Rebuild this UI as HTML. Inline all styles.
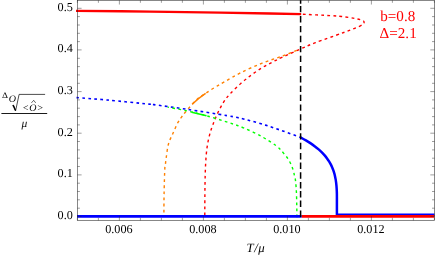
<!DOCTYPE html>
<html><head><meta charset="utf-8"><title>plot</title><style>html,body{margin:0;padding:0;background:#fff;}body{width:436px;height:259px;overflow:hidden;position:relative;font-family:"Liberation Serif",serif;}</style></head><body>
<svg width="436" height="259" viewBox="0 0 436 259" style="position:absolute;left:0;top:0;will-change:transform;text-rendering:geometricPrecision">
<rect width="436" height="259" fill="#fff"/>
<g fill="none" stroke-linecap="butt" stroke-linejoin="round">
<path d="M76.00 10.80 C88.33 10.93 126.00 11.30 150.00 11.60 C174.00 11.90 200.00 12.28 220.00 12.60 C240.00 12.92 256.47 13.23 270.00 13.50 C283.53 13.77 296.00 14.08 301.20 14.20" stroke="#f00" stroke-width="2.3"/>
<path d="M204.80 216.00 C204.80 214.90 204.77 214.57 204.80 209.40 C204.83 204.23 204.87 192.50 205.00 185.00 C205.13 177.50 205.27 170.60 205.60 164.40 C205.93 158.20 206.33 152.73 207.00 147.80 C207.67 142.87 208.60 138.70 209.60 134.80 C210.60 130.90 211.67 127.98 213.00 124.40 C214.33 120.82 215.88 116.93 217.60 113.30 C219.32 109.67 221.27 105.78 223.30 102.60 C225.33 99.42 226.88 97.40 229.80 94.20 C232.72 91.00 237.27 86.55 240.80 83.40 C244.33 80.25 247.52 77.87 251.00 75.30 C254.48 72.73 258.20 70.17 261.70 68.00 C265.20 65.83 268.53 64.12 272.00 62.30 C275.47 60.48 277.72 59.33 282.50 57.10 C287.28 54.87 295.22 51.30 300.70 48.90 C306.18 46.50 308.58 45.30 315.40 42.70 C322.22 40.10 336.27 35.22 341.60 33.30 C346.93 31.38 345.48 31.93 347.40 31.20 C349.32 30.47 351.18 29.67 353.10 28.90 C355.02 28.13 357.25 27.37 358.90 26.60 C360.55 25.83 362.13 24.98 363.00 24.30 C363.87 23.62 364.02 23.05 364.10 22.50 C364.18 21.95 364.17 21.48 363.50 21.00 C362.83 20.52 361.83 20.08 360.10 19.60 C358.37 19.12 356.18 18.62 353.10 18.10 C350.02 17.58 345.45 16.92 341.60 16.50 C337.75 16.08 336.73 15.98 330.00 15.60 C323.27 15.22 306.00 14.43 301.20 14.20" stroke="#f00" stroke-width="1.4" stroke-dasharray="2.8 3.28" stroke-dashoffset="5.28"/>
<path d="M163.90 216.00 C163.90 215.50 163.87 216.87 163.90 213.00 C163.93 209.13 163.95 200.18 164.10 192.80 C164.25 185.42 164.58 173.43 164.80 168.70 C165.02 163.97 165.15 166.35 165.40 164.40 C165.65 162.45 165.78 160.40 166.30 157.00 C166.82 153.60 167.37 148.00 168.50 144.00 C169.63 140.00 171.50 136.63 173.10 133.00 C174.70 129.37 176.55 125.03 178.10 122.20 C179.65 119.37 180.60 118.37 182.40 116.00 C184.20 113.63 186.30 110.92 188.90 108.00 C191.50 105.08 195.22 100.95 198.00 98.50 C200.78 96.05 202.80 95.15 205.60 93.30 C208.40 91.45 211.57 89.37 214.80 87.40 C218.03 85.43 220.67 83.95 225.00 81.50 C229.33 79.05 234.68 75.73 240.80 72.70 C246.92 69.67 254.75 66.08 261.70 63.30 C268.65 60.52 276.00 58.40 282.50 56.00 C289.00 53.60 297.67 50.08 300.70 48.90" stroke="#ff8000" stroke-width="1.4" stroke-dasharray="2.8 3.28" stroke-dashoffset="2.48"/>
<path d="M76.50 97.60 C81.58 98.00 94.97 98.92 107.00 100.00 C119.03 101.08 140.92 103.33 148.70 104.10 C156.48 104.87 147.32 103.73 153.70 104.60 C160.08 105.47 174.80 107.47 187.00 109.30 C199.20 111.13 217.48 113.98 226.90 115.60 C236.32 117.22 237.65 117.60 243.50 119.00 C249.35 120.40 255.82 122.13 262.00 124.00 C268.18 125.87 274.17 127.97 280.60 130.20 C287.03 132.43 297.27 136.20 300.60 137.40" stroke="#00f" stroke-width="1.6" stroke-dasharray="2.7 3.3"/>
<path d="M296.90 216.40 C296.90 216.10 296.97 218.30 296.90 214.60 C296.83 210.90 296.72 199.75 296.50 194.20 C296.28 188.65 295.92 184.28 295.60 181.30 C295.28 178.32 295.07 178.37 294.60 176.30 C294.13 174.23 293.72 171.52 292.80 168.90 C291.88 166.28 290.65 163.23 289.10 160.60 C287.55 157.97 285.60 155.53 283.50 153.10 C281.40 150.67 280.08 148.73 276.50 146.00 C272.92 143.27 267.50 139.73 262.00 136.70 C256.50 133.67 249.05 130.15 243.50 127.80 C237.95 125.45 235.02 124.65 228.70 122.60 C222.38 120.55 212.55 117.45 205.60 115.50 C198.65 113.55 193.33 112.30 187.00 110.90 C180.67 109.50 170.83 107.73 167.60 107.10" stroke="#0f0" stroke-width="1.4" stroke-dasharray="2.7 3.3"/>
<path d="M192.2 104.2 Q198.5 98 205.6 93.3" stroke="#ff8000" stroke-width="1.5"/>
<path d="M191.7 112.2 L206.5 115.8" stroke="#0f0" stroke-width="1.5"/>
<path d="M300.50 137.40 C301.40 137.90 304.21 139.40 305.92 140.40 C307.62 141.40 309.21 142.40 310.72 143.40 C312.22 144.40 313.62 145.40 314.95 146.40 C316.27 147.40 317.50 148.40 318.65 149.40 C319.80 150.40 320.87 151.40 321.87 152.40 C322.87 153.40 323.79 154.40 324.66 155.40 C325.52 156.40 326.31 157.40 327.04 158.40 C327.78 159.40 328.45 160.40 329.07 161.40 C329.70 162.40 330.26 163.40 330.78 164.40 C331.30 165.40 331.77 166.40 332.20 167.40 C332.63 168.40 333.02 169.40 333.37 170.40 C333.72 171.40 334.03 172.40 334.31 173.40 C334.60 174.40 334.84 175.40 335.06 176.40 C335.29 177.40 335.48 178.40 335.65 179.40 C335.82 180.40 335.96 181.40 336.09 182.40 C336.22 183.40 336.33 184.40 336.42 185.40 C336.51 186.40 336.59 187.40 336.65 188.40 C336.71 189.40 336.76 190.40 336.80 191.40 C336.84 192.40 336.88 193.40 336.89 194.40 C336.91 195.40 336.90 196.40 336.90 197.40 C336.90 198.40 336.90 199.40 336.90 200.40 C336.90 201.40 336.90 202.40 336.90 203.40 C336.90 204.40 336.90 205.40 336.90 206.40 C336.90 207.40 336.90 208.40 336.90 209.40 C336.90 210.40 336.90 211.52 336.90 212.40 C336.90 213.28 336.90 214.32 336.90 214.70 H434.5" stroke="#00f" stroke-width="2.5"/>
<path d="M301.5 216.3H434.5" stroke="#f00" stroke-width="2.8"/>
<path d="M77 216.4H301.5" stroke="#00f" stroke-width="2.6"/>
<path d="M300.6 0V3.7 M300.6 5.9v6.4 M300.6 16.0v6.4 M300.6 25.9v6.4 M300.6 35.8v6.4 M300.6 45.9v6.4 M300.6 55.7v6.4 M300.6 65.9v6.4 M300.6 76.1v6.4 M300.6 85.7v6.4 M300.6 94.7v6.4 M300.6 104.4v6.4 M300.6 114.2v6.4 M300.6 123.8v6.4 M300.6 133.2v6.4 M300.6 142.8v6.4 M300.6 153.0v6.4 M300.6 162.6v6.4 M300.6 172.3v6.4 M300.6 182.0v6.4 M300.6 191.0v6.4 M300.6 200.5v6.4 M300.6 210.5v6.4" stroke="#000" stroke-width="1.5"/>
</g>
<g stroke="#262626" stroke-width="0.55" fill="none">
<rect x="77.4" y="0.3" width="357.1" height="220.1"/>
<path d="M77.4 220.4v-2.5 M77.4 0.3v2.5 M98.4 220.4v-2.5 M98.4 0.3v2.5 M119.4 220.4v-4.2 M119.4 0.3v4.2 M140.4 220.4v-2.5 M140.4 0.3v2.5 M161.4 220.4v-2.5 M161.4 0.3v2.5 M182.4 220.4v-2.5 M182.4 0.3v2.5 M203.4 220.4v-4.2 M203.4 0.3v4.2 M224.4 220.4v-2.5 M224.4 0.3v2.5 M245.4 220.4v-2.5 M245.4 0.3v2.5 M266.4 220.4v-2.5 M266.4 0.3v2.5 M287.4 220.4v-4.2 M287.4 0.3v4.2 M308.4 220.4v-2.5 M308.4 0.3v2.5 M329.4 220.4v-2.5 M329.4 0.3v2.5 M350.4 220.4v-2.5 M350.4 0.3v2.5 M371.4 220.4v-4.2 M371.4 0.3v4.2 M392.4 220.4v-2.5 M392.4 0.3v2.5 M413.4 220.4v-2.5 M413.4 0.3v2.5 M434.4 220.4v-2.5 M434.4 0.3v2.5 M77.4 216.5h4.2 M434.5 216.5h-4.2 M77.4 208.2h2.5 M434.5 208.2h-2.5 M77.4 199.8h2.5 M434.5 199.8h-2.5 M77.4 191.5h2.5 M434.5 191.5h-2.5 M77.4 183.2h2.5 M434.5 183.2h-2.5 M77.4 174.9h4.2 M434.5 174.9h-4.2 M77.4 166.5h2.5 M434.5 166.5h-2.5 M77.4 158.2h2.5 M434.5 158.2h-2.5 M77.4 149.9h2.5 M434.5 149.9h-2.5 M77.4 141.5h2.5 M434.5 141.5h-2.5 M77.4 133.2h4.2 M434.5 133.2h-4.2 M77.4 124.9h2.5 M434.5 124.9h-2.5 M77.4 116.6h2.5 M434.5 116.6h-2.5 M77.4 108.2h2.5 M434.5 108.2h-2.5 M77.4 99.9h2.5 M434.5 99.9h-2.5 M77.4 91.6h4.2 M434.5 91.6h-4.2 M77.4 83.3h2.5 M434.5 83.3h-2.5 M77.4 74.9h2.5 M434.5 74.9h-2.5 M77.4 66.6h2.5 M434.5 66.6h-2.5 M77.4 58.3h2.5 M434.5 58.3h-2.5 M77.4 49.9h4.2 M434.5 49.9h-4.2 M77.4 41.6h2.5 M434.5 41.6h-2.5 M77.4 33.3h2.5 M434.5 33.3h-2.5 M77.4 25.0h2.5 M434.5 25.0h-2.5 M77.4 16.6h2.5 M434.5 16.6h-2.5 M77.4 8.3h4.2 M434.5 8.3h-4.2 " stroke-width="0.45"/>
</g>
<g style="font-family:'Liberation Serif',serif" fill="#000">
<text x="72.8" y="219.0" font-size="12.2" text-anchor="end">0.0</text>
<text x="72.8" y="177.4" font-size="12.2" text-anchor="end">0.1</text>
<text x="72.8" y="135.7" font-size="12.2" text-anchor="end">0.2</text>
<text x="72.8" y="94.1" font-size="12.2" text-anchor="end">0.3</text>
<text x="72.8" y="52.4" font-size="12.2" text-anchor="end">0.4</text>
<text x="72.8" y="10.8" font-size="12.2" text-anchor="end">0.5</text>
<text x="118.9" y="233" font-size="12.2" text-anchor="middle">0.006</text>
<text x="202.9" y="233" font-size="12.2" text-anchor="middle">0.008</text>
<text x="286.9" y="233" font-size="12.2" text-anchor="middle">0.010</text>
<text x="370.9" y="233" font-size="12.2" text-anchor="middle">0.012</text>
<text x="246.5" y="252" font-size="12.8" font-style="italic" letter-spacing="0.6">T/μ</text>
<text x="0" y="0" font-size="8.2" transform="translate(1.9 97.9) scale(1.14 1)">Δ</text>
<text x="8.7" y="102.2" font-size="10" font-style="italic">O</text>
<text x="22.2" y="110.8" font-size="10" font-style="italic" letter-spacing="0.25">&lt;O&gt;</text>
<path d="M31.4 102.9L33.7 100.3L35.7 102.9" fill="none" stroke="#000" stroke-width="0.6"/>
<path d="M12.3 105.8L13.4 105.1L15.6 110.8L19.1 94.4H45.1" fill="none" stroke="#000" stroke-width="0.7"/>
<path d="M13.2 105.2L15.5 110.5" fill="none" stroke="#000" stroke-width="1.4"/>
<path d="M1.4 113.5H47.2" stroke="#000" stroke-width="0.9"/>
<text x="21.6" y="126.8" font-size="11.5" font-style="italic">μ</text>
</g>
<g style="font-family:'Liberation Serif',serif" fill="#f00" font-size="15.1">
<text x="380.3" y="21.1">b=0.8</text>
<text x="379.6" y="37.6">Δ=2.1</text>
</g>
</svg>
</body></html>
